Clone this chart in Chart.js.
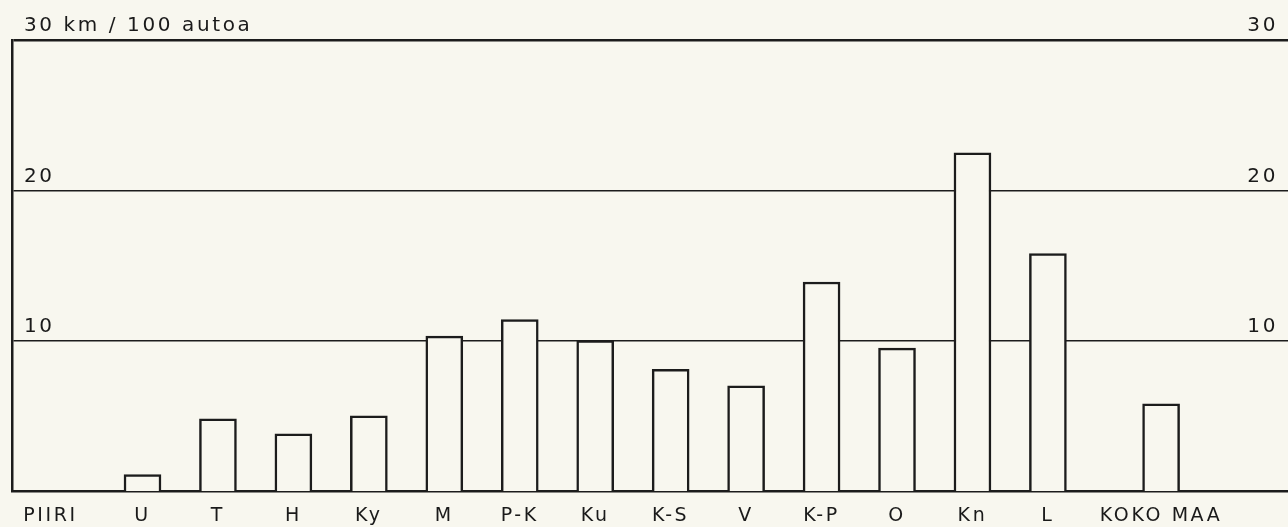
<!DOCTYPE html>
<html><head><meta charset="utf-8">
<script src="https://cdn.jsdelivr.net/npm/chart.js@4.4.1/dist/chart.umd.min.js"></script>
<style>html,body{margin:0;padding:0;background:#f8f7ef;} canvas{display:block;}</style>
</head><body>
<canvas id="c" width="1288" height="527"></canvas>
<script>
// ---- data ----
const categories = ['U','T','H','Ky','M','P-K','Ku','K-S','V','K-P','O','Kn','L','KOKO MAA'];
const values = [1.1, 4.8, 3.8, 5.0, 10.3, 11.4, 10.0, 8.1, 7.0, 13.9, 9.5, 22.5, 15.8, 5.8];
const barPositions = [1,2,3,4,5,6,7,8,9,10,11,12,13,14.5];
const rowLabel = 'PIIRI';
const rowLabelPos = -0.22;
const yTickValues = [0, 10, 20, 30];
const yUnitLabel = '30 km / 100 autoa';

const INK = '#1c1c1c';
const TEXT = '#1a1a1a';
const BG = '#f8f7ef';
const FONT = "'DejaVu Sans', sans-serif";

const tickLabelPositions = [rowLabelPos].concat(barPositions);
const tickLabelTexts = [rowLabel].concat(categories);

const spacingPlugin = {
  id: 'spacing',
  beforeUpdate(c){ c.ctx.letterSpacing = '2.6px'; },
  beforeDraw(c){ c.ctx.letterSpacing = '2.6px'; }
};

new Chart(document.getElementById('c'), {
  type: 'bar',
  data: {
    datasets: [{
      data: barPositions.map((x, i) => ({x: x, y: values[i]})),
      backgroundColor: BG,
      borderColor: INK,
      borderWidth: 2.5,
      borderSkipped: 'bottom',
      barThickness: 37
    }]
  },
  options: {
    responsive: false,
    devicePixelRatio: 1,
    animation: false,
    layout: { padding: { top: 40, left: 12, right: 0, bottom: 0 } },
    plugins: { legend: { display: false }, tooltip: { enabled: false }, title: { display: false } },
    scales: {
      x: {
        type: 'linear',
        offset: false,
        min: -0.7296,
        max: 16.182,
        afterBuildTicks: (s) => { s.ticks = tickLabelPositions.map(v => ({value: v})); },
        afterFit: (s) => { s.height = 36; },
        ticks: {
          autoSkip: false, maxRotation: 0, padding: 14,
          color: TEXT, font: { family: FONT, size: 19 },
          callback: (v, i) => tickLabelTexts[i]
        },
        grid: { display: false, drawTicks: false, offset: false },
        border: { display: true, color: INK, width: 2.5 }
      },
      y: {
        position: 'left',
        min: 0, max: 30,
        afterBuildTicks: (s) => { s.ticks = yTickValues.map(v => ({value: v})); },
        afterFit: (s) => { s.width = 0; },
        ticks: {
          mirror: true, padding: 12, labelOffset: -14,
          color: TEXT, font: { family: FONT, size: 20 },
          callback: (v) => v === 0 ? '' : (v === 30 ? yUnitLabel : String(v))
        },
        grid: {
          drawTicks: false, color: INK,
          lineWidth: (ctx) => ctx.tick && ctx.tick.value === 30 ? 2.5 : (ctx.tick && ctx.tick.value === 0 ? 0 : 1.5)
        },
        border: { display: true, color: INK, width: 2.5 }
      },
      y2: {
        position: 'right',
        min: 0, max: 30,
        afterBuildTicks: (s) => { s.ticks = yTickValues.map(v => ({value: v})); },
        afterFit: (s) => { s.width = 0; },
        ticks: {
          mirror: true, padding: -10, labelOffset: -14,
          color: TEXT, font: { family: FONT, size: 20 },
          callback: (v) => v === 0 ? '' : String(v)
        },
        grid: { display: false, drawTicks: false },
        border: { display: false }
      }
    }
  },
  plugins: [spacingPlugin]
});
</script>
</body></html>
